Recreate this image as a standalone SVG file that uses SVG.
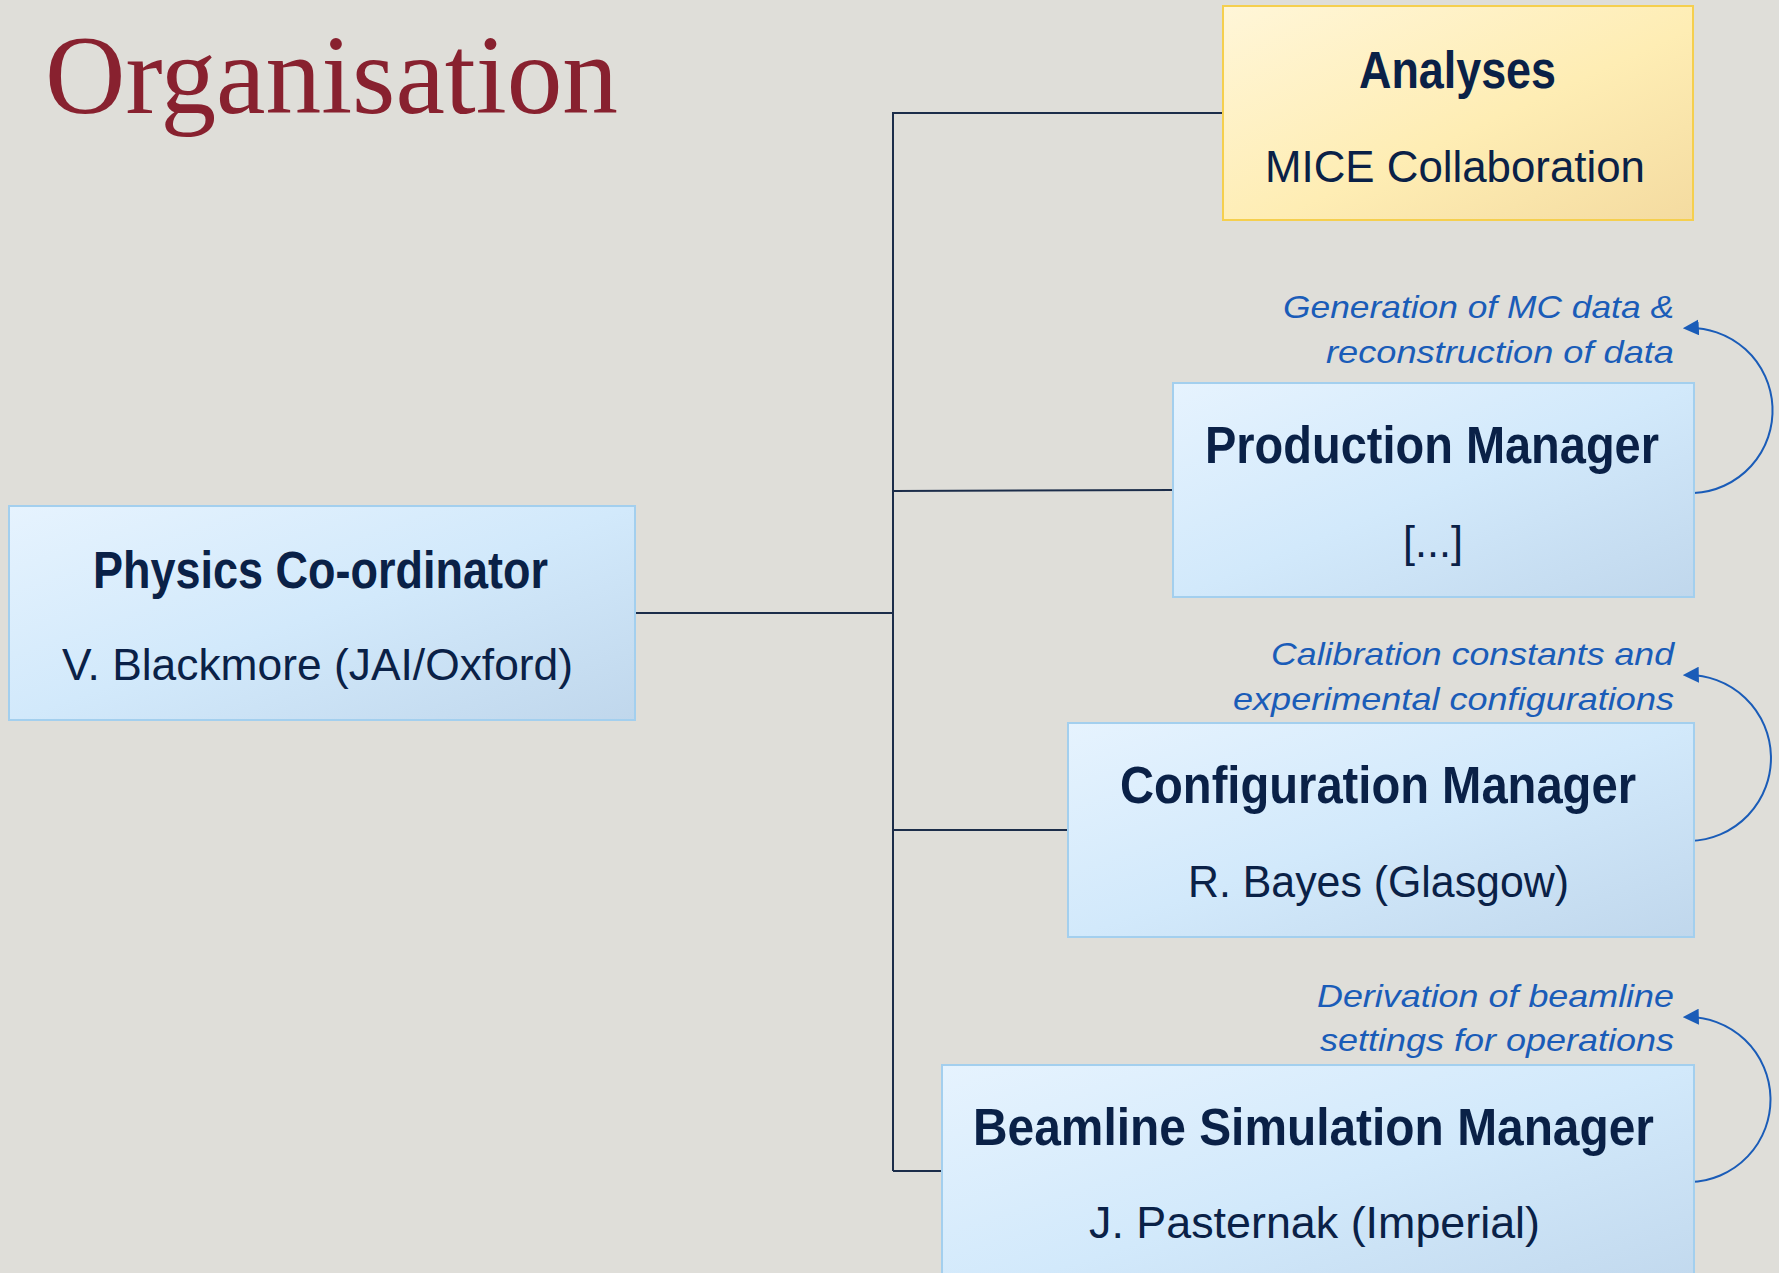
<svg xmlns="http://www.w3.org/2000/svg" width="1779" height="1273" viewBox="0 0 1779 1273">
<defs>
<linearGradient id="gBlue" x1="0" y1="0" x2="1" y2="1">
<stop offset="0" stop-color="#E6F3FE"/>
<stop offset="0.5" stop-color="#D2E9FB"/>
<stop offset="1" stop-color="#C0D7EC"/>
</linearGradient>
<linearGradient id="gYellow" x1="0" y1="0" x2="1" y2="1">
<stop offset="0" stop-color="#FFF6D8"/>
<stop offset="0.55" stop-color="#FEEDB4"/>
<stop offset="1" stop-color="#F4DBA0"/>
</linearGradient>
<marker id="ah" viewBox="0 0 10 10" refX="8" refY="5" markerWidth="16" markerHeight="16" markerUnits="userSpaceOnUse" orient="auto">
<path d="M0,0 L10,5 L0,10 z" fill="#1A5CB8"/>
</marker>
<style>
.box{fill:url(#gBlue);stroke:#A3CFEE;stroke-width:2}
.ybox{fill:url(#gYellow);stroke:#F5CF4E;stroke-width:2}
.h{font-family:"Liberation Sans Narrow","Liberation Sans",sans-serif;font-weight:bold;font-size:51px;fill:#0A2147}
.s{font-family:"Liberation Sans Narrow","Liberation Sans",sans-serif;font-size:44px;fill:#0A2147}
.lbl{font-family:"Liberation Sans Narrow","Liberation Sans",sans-serif;font-style:italic;font-size:32px;fill:#1A5CB8}
.con{stroke:#1C2D4A;stroke-width:2;fill:none}
.loop{stroke:#1A5CB8;stroke-width:2;fill:none;marker-end:url(#ah)}
</style>
</defs>
<rect width="1779" height="1273" fill="#DFDED9"/>
<text x="45" y="113" font-family="'Liberation Serif',serif" font-size="112" fill="#88212F" textLength="573" lengthAdjust="spacingAndGlyphs">Organisation</text>

<g id="connectors">
<path class="con" d="M893,112 V1171"/>
<path class="con" d="M635,613 H893"/>
<path class="con" d="M893,113 H1223"/>
<path class="con" d="M893,491 L1173,490"/>
<path class="con" d="M893,830 H1068"/>
<path class="con" d="M893,1171 H942"/>
<path class="loop" d="M1694,493 A82,82 0 0 0 1686,328"/>
<path class="loop" d="M1690,841 A82,82 0 0 0 1686,675"/>
<path class="loop" d="M1690,1182 A82,82 0 0 0 1686,1017"/>
</g>

<g id="analyses">
<rect class="ybox" x="1223" y="6" width="470" height="214"/>
<text class="h" x="1359" y="88" font-size="53" textLength="197" lengthAdjust="spacingAndGlyphs">Analyses</text>
<text class="s" x="1265" y="182" textLength="380" lengthAdjust="spacingAndGlyphs">MICE Collaboration</text>
</g>

<g id="production">
<rect class="box" x="1173" y="383" width="521" height="214"/>
<text class="h" x="1205" y="463" textLength="454" lengthAdjust="spacingAndGlyphs">Production Manager</text>
<text class="s" x="1403" y="557" textLength="60" lengthAdjust="spacingAndGlyphs">[...]</text>
<text class="lbl" x="1283" y="318" textLength="391" lengthAdjust="spacingAndGlyphs">Generation of MC data &amp;</text>
<text class="lbl" x="1326" y="363" textLength="348" lengthAdjust="spacingAndGlyphs">reconstruction of data</text>
</g>

<g id="physics">
<rect class="box" x="9" y="506" width="626" height="214"/>
<text class="h" x="93" y="588" textLength="455" lengthAdjust="spacingAndGlyphs">Physics Co-ordinator</text>
<text class="s" x="62" y="680" textLength="511" lengthAdjust="spacingAndGlyphs">V. Blackmore (JAI/Oxford)</text>
</g>

<g id="configuration">
<rect class="box" x="1068" y="723" width="626" height="214"/>
<text class="h" x="1120" y="803" textLength="516" lengthAdjust="spacingAndGlyphs">Configuration Manager</text>
<text class="s" x="1188" y="897" textLength="381" lengthAdjust="spacingAndGlyphs">R. Bayes (Glasgow)</text>
<text class="lbl" x="1271" y="665" textLength="403" lengthAdjust="spacingAndGlyphs">Calibration constants and</text>
<text class="lbl" x="1233" y="710" textLength="441" lengthAdjust="spacingAndGlyphs">experimental configurations</text>
</g>

<g id="beamline">
<rect class="box" x="942" y="1065" width="752" height="240"/>
<text class="h" x="973" y="1145" textLength="681" lengthAdjust="spacingAndGlyphs">Beamline Simulation Manager</text>
<text class="s" x="1089" y="1238" textLength="451" lengthAdjust="spacingAndGlyphs">J. Pasternak (Imperial)</text>
<text class="lbl" x="1317" y="1007" textLength="357" lengthAdjust="spacingAndGlyphs">Derivation of beamline</text>
<text class="lbl" x="1320" y="1051" textLength="354" lengthAdjust="spacingAndGlyphs">settings for operations</text>
</g>
</svg>
